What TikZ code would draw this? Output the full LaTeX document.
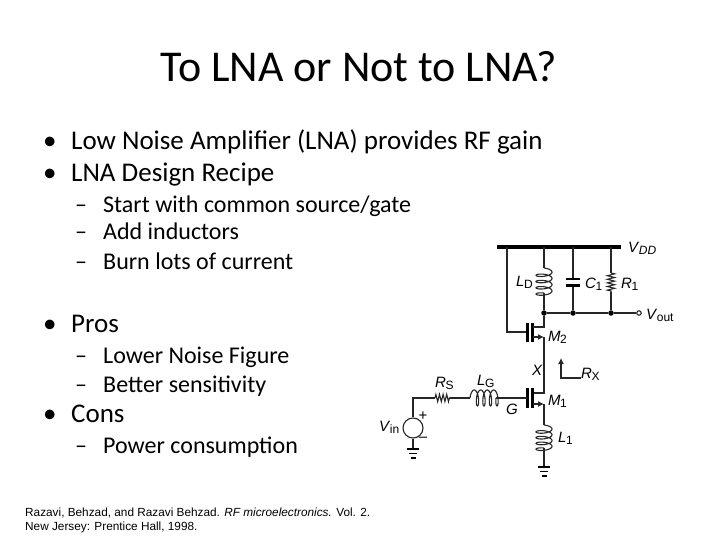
\documentclass[tikz,border=0pt]{standalone}
\usepackage{fontspec}
\setmainfont{Carlito}
\newfontfamily\helv{Liberation Sans}
\usetikzlibrary{decorations.pathmorphing,arrows.meta}
\tikzset{
  line/.style={text=black,anchor=base west,inner sep=0pt,font=\fontsize{27}{27}\selectfont},
  subline/.style={line,font=\fontsize{24}{24}\selectfont},
  ref/.style={anchor=base west,inner sep=0pt,font=\helv\fontsize{11.8}{11.8}\selectfont},
  lab/.style={anchor=base west,inner sep=0pt,font=\helv\fontsize{15}{15}\selectfont},
  wire/.style={line width=1.1pt,black!85},
  plate/.style={line width=2.4pt,black},
  dot/.style={circle,fill=black,inner sep=0pt,minimum size=5.5pt},
  res/.style={wire,decorate,decoration={zigzag,segment length=3.6pt,amplitude=3.6pt}}
}
\newcommand{\lsub}[1]{\hspace{-0.5pt}\raisebox{-2.5pt}{\fontsize{12}{12}\selectfont #1}}
\newcommand{\vcoil}[3]{\draw[wire,domain=0:1440,samples=160,smooth] plot ({#1+8*sin(\x)},{#2+#3*(\x/1440)+2.6-2.6*cos(\x)});}
\newcommand{\hcoil}[3]{\draw[wire,domain=0:1440,samples=160,smooth] plot ({#1+#3*(\x/1440)+2.6-2.6*cos(\x)},{#2-8*sin(\x)});}
\newcommand{\gnd}[2]{
  \draw[line width=1.7pt] (#1-6,#2)--(#1+6,#2);
  \draw[line width=1.7pt] (#1-4,#2+4.5)--(#1+4,#2+4.5);
  \draw[line width=1.7pt] (#1-2.5,#2+9)--(#1+2.5,#2+9);}
\begin{document}
\begin{tikzpicture}[x=1pt,y=-1pt,>={Latex[length=6pt,width=6pt]}]
\useasboundingbox (0,0) rectangle (720,540);
\node[anchor=base,inner sep=0pt,font=\fontsize{44}{44}\selectfont] (title) at (359,82) {To LNA or Not to LNA?};
\node[line] (b1) at (43,150) {•};
\node[line] (t1) at (71,150) {Low Noise Amplifier (LNA) provides RF gain};
\node[line] (b2) at (43,182) {•};
\node[line] (t2) at (71,182) {LNA Design Recipe};
\node[subline] (d1) at (75,212) {–};
\node[subline] (s1) at (103,212) {Start with common source/gate};
\node[subline] (d2) at (75,240) {–};
\node[subline] (s2) at (103,240) {Add inductors};
\node[subline] (d3) at (75,269) {–};
\node[subline] (s3) at (103,269) {Burn lots of current};
\node[line] (b3) at (43,332) {•};
\node[line] (t3) at (71,332) {Pros};
\node[subline] (d4) at (75,363) {–};
\node[subline] (s4) at (103,363) {Lower Noise Figure};
\node[subline] (d5) at (75,392) {–};
\node[subline] (s5) at (103,392) {Better sensitivity};
\node[line] (b4) at (43,422) {•};
\node[line] (t4) at (71,422) {Cons};
\node[subline] (d6) at (75,453) {–};
\node[subline] (s6) at (103,453) {Power consumption};
\node[ref] (ref1) at (25,516) {Razavi, Behzad, and Razavi Behzad. \textit{RF microelectronics.} Vol. 2.};
\node[ref] (ref2) at (25,530) {New Jersey: Prentice Hall, 1998.};
% supply and output rail
\coordinate (vddl) at (497,247);
\coordinate (vddr) at (621,247);
\draw[line width=3.2pt] (vddl)--(vddr);
\node[dot] (dn1) at (544,313) {};
\node[dot] (dn2) at (573,313) {};
\node[dot] (dn3) at (611,313) {};
\node[circle,draw,wire,fill=white,inner sep=0pt,minimum size=4.5pt] (outp) at (639,313) {};
\draw[wire] (dn1)--(dn2)--(dn3)--(outp);
% LD
\draw[wire] (544,247)--(544,268);
\vcoil{544}{268}{25}
\draw[wire] (544,293)--(dn1);
% C1
\draw[wire] (573,247)--(573,279) (573,285.5)--(dn2);
\draw[plate] (566,279)--(580,279) (566,285.5)--(580,285.5);
% R1
\draw[wire] (611,247)--(611,273) (611,292)--(dn3);
\draw[res] (611,273)--(611,292);
% M2
\draw[wire] (507,247)--(507,332)--(527,332);
\draw[plate] (527.5,323)--(527.5,342);
\draw[plate] (532.5,323)--(532.5,342);
\draw[wire] (dn1)--(544,327)--(533,327);
\draw[wire,->] (533,337)--(544,337);
\draw[wire] (544,337)--(544,393)--(533,393);
% M1
\draw[plate] (527.5,388)--(527.5,408);
\draw[plate] (532.5,388)--(532.5,408);
\draw[wire,->] (533,404)--(544,404);
\draw[wire] (544,404)--(544,425);
\vcoil{544}{425}{23}
\draw[wire] (544,448)--(544,467);
\gnd{544}{467}
% input
\node[circle,draw,wire,fill=white,minimum size=20pt,inner sep=0pt] (vs) at (413,428) {};
\coordinate (corner) at (413,398);
\draw[wire] (vs.north)--(corner)--(435,398);
\draw[res] (435,398)--(450,398);
\draw[wire] (450,398)--(470,398);
\hcoil{470}{398}{26}
\draw[wire] (496,398)--(527,398);
\draw[wire] (vs.south)--(413,449);
\gnd{413}{449}
% RX arrow
\coordinate (rxa) at (581,378);
\coordinate (rxb) at (561,378);
\coordinate (rxc) at (561,358);
\draw[wire,->] (rxa)--(rxb)--(rxc);
% labels
\node[lab] (lvdd) at (628,252) {\textit{V}\lsub{\textit{DD}}};
\node[lab] (lld) at (516,286) {\textit{L}\lsub{D}};
\node[lab] (lc1) at (585,288) {\textit{C}\lsub{1}};
\node[lab] (lr1) at (621,288) {\textit{R}\lsub{1}};
\node[lab] (lvo) at (646,319) {\textit{V}\lsub{out}};
\node[lab] (lm2) at (548,341) {\textit{M}\lsub{2}};
\node[lab] (lx) at (532,375) {\textit{X}};
\node[lab] (lrx) at (581,378) {\textit{R}\lsub{X}};
\node[lab] (lg) at (506,414) {\textit{G}};
\node[lab] (lm1) at (548,405) {\textit{M}\lsub{1}};
\node[lab] (ll1) at (558,442) {\textit{L}\lsub{1}};
\node[lab] (lrs) at (435,387) {\textit{R}\lsub{S}};
\node[lab] (llg) at (477,385) {\textit{L}\lsub{G}};
\node[lab] (lvin) at (379,431) {\textit{V}\lsub{in}};
\node[lab,anchor=center] (lp) at (423,416) {+};
\node[lab,anchor=center] (lm) at (423,439) {–};
\end{tikzpicture}
\end{document}
